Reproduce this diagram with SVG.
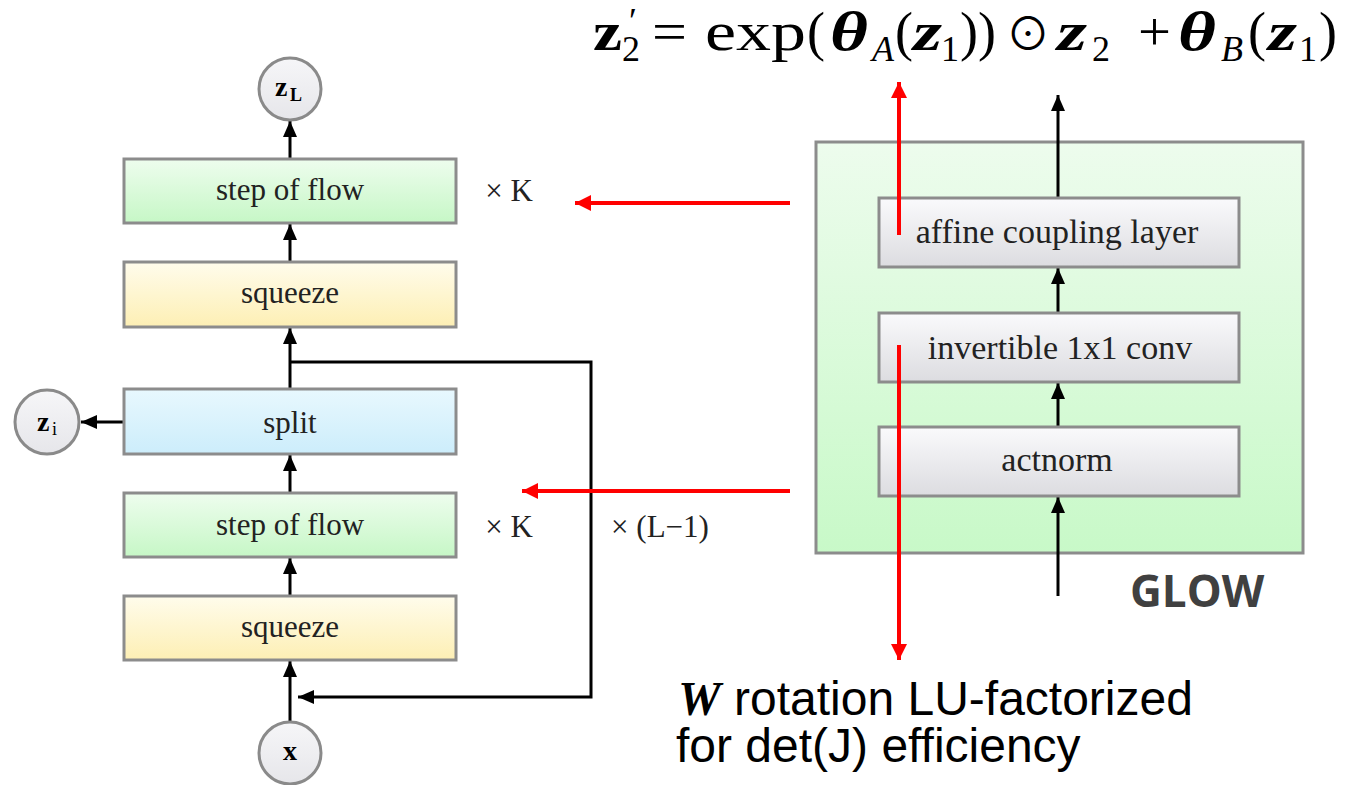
<svg xmlns="http://www.w3.org/2000/svg" width="1348" height="785" viewBox="0 0 1348 785">
<style>
.box{stroke:#8c8c8c;stroke-width:3}
.lbl{font-family:"Liberation Serif","DejaVu Serif",serif;font-size:31px;fill:#222;text-anchor:middle}
.lbr{font-family:"Liberation Serif","DejaVu Serif",serif;font-size:34px;fill:#222;text-anchor:middle}
.eq{font-family:"Liberation Serif","DejaVu Serif",serif;fill:#000}
.m{font-size:54px}
.s{font-size:36px}
.bi{font-weight:bold;font-style:italic}
.con{stroke:#000;stroke-width:3;fill:none}
.red{stroke:#ff0000;stroke-width:4;fill:none}
.circ{fill:url(#gc);stroke:#8a8a8a;stroke-width:3}
</style>
<defs>
<linearGradient id="gg" x1="0" y1="0" x2="0" y2="1"><stop offset="0" stop-color="#eefdee"/><stop offset="1" stop-color="#c6f7c6"/></linearGradient>
<linearGradient id="gy" x1="0" y1="0" x2="0" y2="1"><stop offset="0" stop-color="#fffcec"/><stop offset="1" stop-color="#fdefb4"/></linearGradient>
<linearGradient id="gb" x1="0" y1="0" x2="0" y2="1"><stop offset="0" stop-color="#e8f8fe"/><stop offset="1" stop-color="#ccedfb"/></linearGradient>
<linearGradient id="gw" x1="0" y1="0" x2="0" y2="1"><stop offset="0" stop-color="#fafafc"/><stop offset="1" stop-color="#dcdce0"/></linearGradient>
<linearGradient id="gbig" x1="0" y1="0" x2="0" y2="1"><stop offset="0" stop-color="#edfced"/><stop offset="1" stop-color="#c8f9c8"/></linearGradient>
<linearGradient id="gc" x1="0" y1="0" x2="0" y2="1"><stop offset="0" stop-color="#f6f6f8"/><stop offset="1" stop-color="#e6e6ea"/></linearGradient>
<marker id="ah" markerUnits="userSpaceOnUse" markerWidth="16" markerHeight="16" refX="16" refY="7" orient="auto"><path d="M0,0 L16,7 L0,14 z" fill="#000"/></marker>
<marker id="ar" markerUnits="userSpaceOnUse" markerWidth="18" markerHeight="18" refX="16" refY="8" orient="auto"><path d="M0,0 L16,8 L0,16 z" fill="#ff0000"/></marker>
</defs>
<rect width="1348" height="785" fill="#fff"/>

<g id="glow-box"><rect x="816" y="142" width="487" height="411" fill="url(#gbig)" class="box"/></g>

<g id="connectors">
<line class="con" x1="290" y1="159" x2="290" y2="121" marker-end="url(#ah)"/>
<line class="con" x1="290" y1="262" x2="290" y2="224" marker-end="url(#ah)"/>
<line class="con" x1="290" y1="389" x2="290" y2="328" marker-end="url(#ah)"/>
<polyline class="con" points="290,362 591,362 591,697 298,697" marker-end="url(#ah)"/>
<line class="con" x1="124" y1="422" x2="81" y2="422" marker-end="url(#ah)"/>
<line class="con" x1="290" y1="493" x2="290" y2="455" marker-end="url(#ah)"/>
<line class="con" x1="290" y1="596" x2="290" y2="558" marker-end="url(#ah)"/>
<line class="con" x1="290" y1="721" x2="290" y2="661" marker-end="url(#ah)"/>
<line class="con" x1="1058" y1="198" x2="1058" y2="95" marker-end="url(#ah)"/>
<line class="con" x1="1058" y1="313" x2="1058" y2="268" marker-end="url(#ah)"/>
<line class="con" x1="1058" y1="427" x2="1058" y2="383" marker-end="url(#ah)"/>
<line class="con" x1="1058" y1="596" x2="1058" y2="497" marker-end="url(#ah)"/>
</g>

<g id="zL"><circle class="circ" cx="290" cy="89" r="31"/><text class="eq" x="275" y="96" font-size="28" font-weight="bold">z</text><text class="eq" x="290" y="101" font-size="18" font-weight="bold">L</text></g>
<g id="step1"><rect x="124" y="159" width="332" height="64" fill="url(#gg)" class="box"/><text class="lbl" x="290" y="200">step of flow</text></g>
<g id="squeeze1"><rect x="124" y="262" width="332" height="65" fill="url(#gy)" class="box"/><text class="lbl" x="290" y="303">squeeze</text></g>
<g id="zi"><circle class="circ" cx="47" cy="422" r="32"/><text class="eq" x="37" y="431" font-size="28" font-weight="bold">z</text><text class="eq" x="52" y="435" font-size="18">i</text></g>
<g id="split"><rect x="124" y="389" width="332" height="65" fill="url(#gb)" class="box"/><text class="lbl" x="290" y="433">split</text></g>
<g id="step2"><rect x="124" y="493" width="332" height="64" fill="url(#gg)" class="box"/><text class="lbl" x="290" y="535">step of flow</text></g>
<g id="squeeze2"><rect x="124" y="596" width="332" height="64" fill="url(#gy)" class="box"/><text class="lbl" x="290" y="637">squeeze</text></g>
<g id="x"><circle class="circ" cx="290" cy="753" r="31"/><text class="eq" x="290" y="760" font-size="28" font-weight="bold" text-anchor="middle">x</text></g>

<g id="labels">
<text class="lbl" x="509" y="201">× K</text>
<text class="lbl" x="509" y="537">× K</text>
<text class="lbl" x="660" y="537">× (L−1)</text>
</g>

<g id="affine"><rect x="879" y="198" width="360" height="69" fill="url(#gw)" class="box"/><text class="lbr" x="1057" y="243">affine coupling layer</text></g>
<g id="inv"><rect x="879" y="313" width="360" height="69" fill="url(#gw)" class="box"/><text class="lbr" x="1060" y="359">invertible 1x1 conv</text></g>
<g id="actnorm"><rect x="879" y="427" width="360" height="69" fill="url(#gw)" class="box"/><text class="lbr" x="1057" y="471">actnorm</text></g>

<g id="red-arrows">
<line class="red" x1="790" y1="203" x2="575" y2="203" marker-end="url(#ar)"/>
<line class="red" x1="790" y1="491" x2="522" y2="491" marker-end="url(#ar)"/>
<line class="red" x1="899" y1="235" x2="899" y2="82" marker-end="url(#ar)"/>
<line class="red" x1="899" y1="345" x2="899" y2="660" marker-end="url(#ar)"/>
</g>

<text x="1130" y="607" font-family="'Open Sans','Liberation Sans',sans-serif" font-size="44" font-weight="bold" fill="#404040">GLOW</text>

<g id="equation" class="eq">
<text class="m" x="593" y="50" font-weight="bold" textLength="29" lengthAdjust="spacingAndGlyphs">z</text>
<text class="s" x="629" y="33">′</text>
<text class="s" x="622" y="61">2</text>
<text class="m" x="652" y="50" textLength="35" lengthAdjust="spacingAndGlyphs">=</text>
<text class="m" x="705" y="50" textLength="101" lengthAdjust="spacingAndGlyphs">exp</text>
<text class="m" x="807" y="50">(</text>
<text class="m bi" x="830" y="50" textLength="38" lengthAdjust="spacingAndGlyphs">θ</text>
<text class="s" x="872" y="61" font-style="italic">A</text>
<text class="m" x="895" y="50">(</text>
<text class="m bi" x="913" y="50" textLength="29" lengthAdjust="spacingAndGlyphs">z</text>
<text class="s" x="941" y="61">1</text>
<text class="m" x="960" y="50">))</text>
<text x="1006" y="50" font-size="44" font-family="'Noto Sans CJK SC','DejaVu Serif',sans-serif">⊙</text>
<text class="m bi" x="1057" y="50" textLength="30" lengthAdjust="spacingAndGlyphs">z</text>
<text class="s" x="1092" y="61">2</text>
<text class="m" x="1138" y="50" textLength="33" lengthAdjust="spacingAndGlyphs">+</text>
<text class="m bi" x="1178" y="50" textLength="38" lengthAdjust="spacingAndGlyphs">θ</text>
<text class="s" x="1221" y="61" font-style="italic">B</text>
<text class="m" x="1248" y="50">(</text>
<text class="m bi" x="1268" y="50" textLength="29" lengthAdjust="spacingAndGlyphs">z</text>
<text class="s" x="1299" y="61">1</text>
<text class="m" x="1319" y="50">)</text>
</g>

<g id="note" font-family="'Liberation Sans',Arial,sans-serif" font-size="48" fill="#000">
<text x="678" y="715"><tspan font-family="'Liberation Serif',serif" font-weight="bold" font-style="italic">W</tspan> rotation LU-factorized</text>
<text x="676" y="762">for det(J) efficiency</text>
</g>
</svg>
